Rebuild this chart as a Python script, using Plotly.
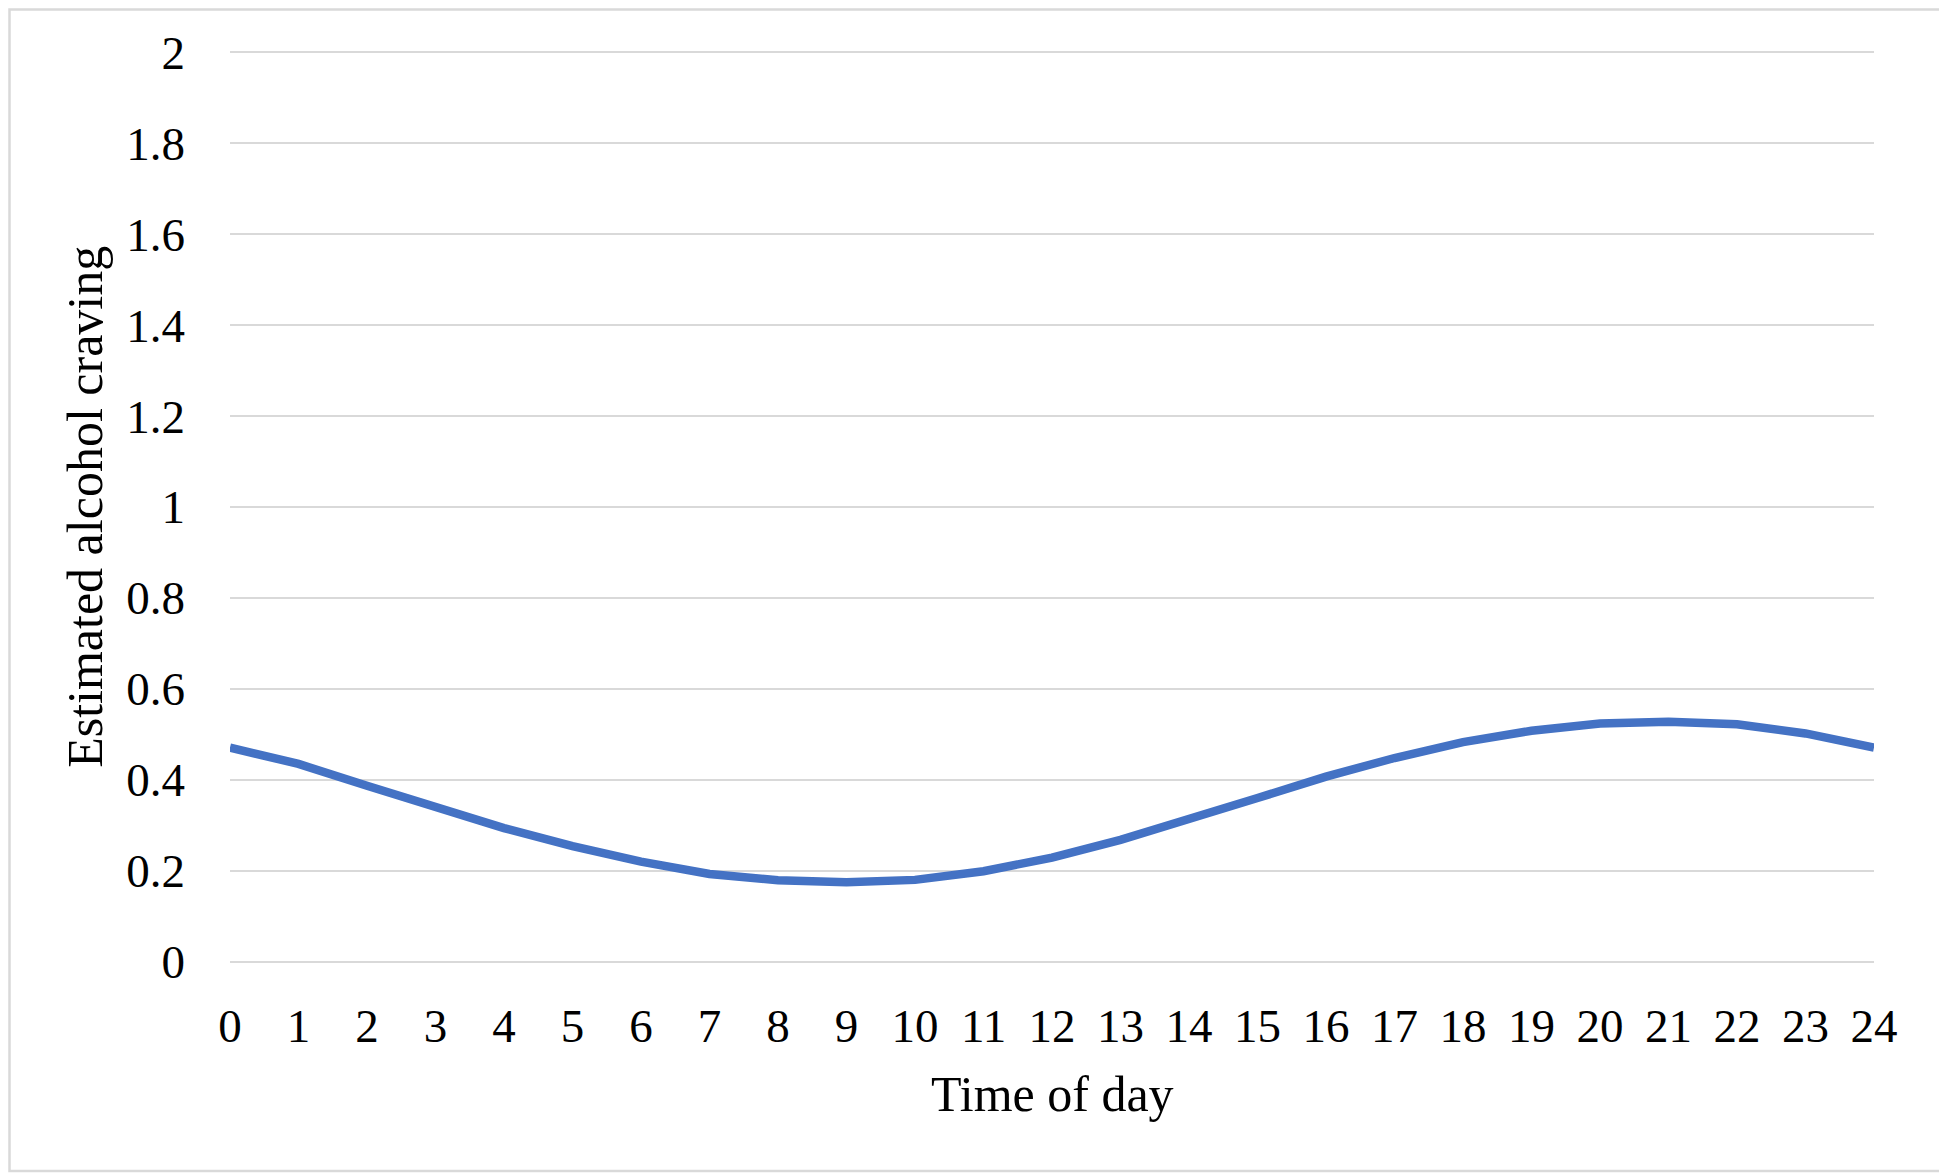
import plotly.graph_objects as go

hours = list(range(0, 25))
craving = [0.471, 0.435, 0.387, 0.340, 0.294, 0.254, 0.220, 0.193, 0.179, 0.175,
           0.180, 0.199, 0.229, 0.268, 0.312, 0.360, 0.407, 0.448, 0.483, 0.508,
           0.524, 0.528, 0.522, 0.502, 0.471]
y_ticks = [0, 0.2, 0.4, 0.6, 0.8, 1, 1.2, 1.4, 1.6, 1.8, 2]
y_tick_labels = ["0", "0.2", "0.4", "0.6", "0.8", "1", "1.2", "1.4", "1.6", "1.8", "2"]
x_title = "Time of day"
y_title = "Estimated alcohol craving"

FONT = "Liberation Serif, Times New Roman, serif"

fig = go.Figure()
fig.add_trace(go.Scatter(
    x=hours, y=craving, mode="lines",
    line=dict(color="#4472C4", width=8.5),
    hoverinfo="x+y", showlegend=False,
))

# page has an 8px body margin; figure sized so it fits the window
W, H = 1939, 1165
L, R, T, B = 222, 73, 42, 209

fig.update_layout(
    width=W, height=H,
    margin=dict(l=L, r=R, t=T, b=B, autoexpand=False),
    paper_bgcolor="white", plot_bgcolor="white",
    font=dict(family=FONT, size=47, color="black"),
    xaxis=dict(
        range=[0, 24], tickmode="array", tickvals=hours,
        ticktext=[str(h) for h in hours],
        showgrid=False, zeroline=False, showline=False,
        ticks="", ticklabelstandoff=30,
        tickfont=dict(family=FONT, size=47, color="black"),
        fixedrange=True,
    ),
    yaxis=dict(
        range=[-0.005, 2.005], tickmode="array", tickvals=y_ticks, ticktext=y_tick_labels,
        showgrid=True, gridcolor="#D9D9D9", gridwidth=2,
        zeroline=False, showline=False,
        ticks="", ticklabelstandoff=44,
        tickfont=dict(family=FONT, size=47, color="black"),
        fixedrange=True,
    ),
    annotations=[
        dict(text=x_title, xref="paper", yref="paper", x=0.5, y=-0.1427,
             xanchor="center", yanchor="middle", showarrow=False,
             font=dict(family=FONT, size=50, color="black")),
        dict(text=y_title, xref="paper", yref="paper", x=-0.0883, y=0.5,
             xanchor="center", yanchor="middle", showarrow=False, textangle=-90,
             font=dict(family=FONT, size=50, color="black")),
    ],
)

pw = W - L - R
ph = H - T - B
fig.add_shape(
    type="rect", xref="paper", yref="paper",
    x0=(1.5 - L) / pw, x1=(W - 2 - L) / pw,
    y0=((H - B) - (H - 2)) / ph, y1=((H - B) - 1.5) / ph,
    line=dict(color="#D9D9D9", width=2.5), fillcolor="rgba(0,0,0,0)", layer="below",
)

fig.write_html("out.html")
